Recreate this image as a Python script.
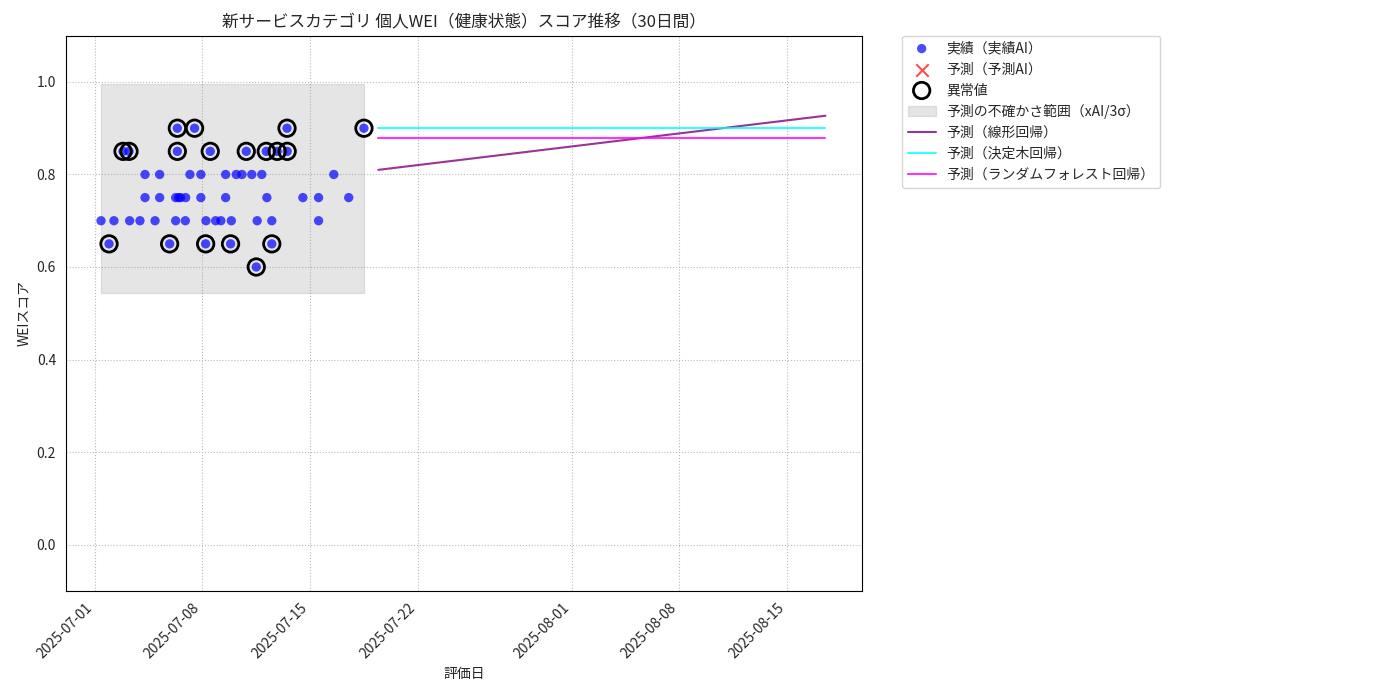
import numpy as np, pandas as pd, matplotlib
matplotlib.use("Agg")
import matplotlib.pyplot as plt, seaborn as sns

sns.set_style("white")
plt.rcParams['font.family'] = ['Noto Sans CJK JP', 'DejaVu Sans']

base = pd.Timestamp("2025-07-01")
obs_days = [5.37,6.49,12.5,17.5,
            1.84,2.23,5.37,7.51,9.85,11.15,11.86,12.51,
            3.27,4.22,6.19,6.90,8.51,9.20,9.57,10.21,10.86,15.54,
            3.27,4.22,5.26,5.45,5.58,5.91,6.90,8.51,11.19,13.53,14.55,16.51,
            0.41,1.25,2.27,2.94,3.92,5.26,5.89,7.23,7.86,8.20,8.88,10.56,11.51,14.55,
            0.93,4.87,7.21,8.83,11.51,
            10.5]
obs_vals = [0.9]*4 + [0.85]*8 + [0.8]*10 + [0.75]*12 + [0.7]*14 + [0.65]*5 + [0.6]
anom_days = [5.37,6.49,12.5,17.5,1.84,2.23,5.37,7.51,9.85,11.15,11.86,12.51,0.93,4.87,7.21,8.83,11.51,10.5]
anom_vals = [0.9]*4 + [0.85]*8 + [0.65]*5 + [0.6]
pred_days = [18.44, 47.5]
lin_vals = [0.81, 0.927]
tree_vals = [0.9, 0.9]
rf_vals = [0.878, 0.878]
band_days = [0.39, 17.5]
band_lo = [0.544, 0.544]
band_hi = [0.995, 0.995]
tick_labels = ["2025-07-01","2025-07-08","2025-07-15","2025-07-22","2025-08-01","2025-08-08","2025-08-15"]

to_dt = lambda d: [base + pd.Timedelta(days=x) for x in d]
obs = pd.DataFrame({"date": to_dt(obs_days), "val": obs_vals})
anom = pd.DataFrame({"date": to_dt(anom_days), "val": anom_vals})
pdt = to_dt(pred_days)

fig = plt.figure(figsize=(14, 7), dpi=100)
ax = fig.add_axes([0.047, 0.156, 0.569, 0.793])
ax.fill_between(to_dt(band_days), band_lo, band_hi, color="grey", alpha=0.2, label="予測の不確かさ範囲（xAI/3σ）")
sns.scatterplot(data=obs, x="date", y="val", ax=ax, color="blue", alpha=0.7, s=45, edgecolor="none", label="実績（実績AI）")
ax.scatter([], [], marker="x", color="red", alpha=0.7, s=80, label="予測（予測AI）")
ax.scatter(anom["date"], anom["val"], s=140, facecolors="none", edgecolors="black", linewidths=2, label="異常値")
sns.lineplot(x=pdt, y=lin_vals, ax=ax, color="purple", alpha=0.8, lw=1.5, label="予測（線形回帰）")
sns.lineplot(x=pdt, y=tree_vals, ax=ax, color="cyan", alpha=0.8, lw=1.5, label="予測（決定木回帰）")
sns.lineplot(x=pdt, y=rf_vals, ax=ax, color="magenta", alpha=0.8, lw=1.5, label="予測（ランダムフォレスト回帰）")

ax.set_xlim(base + pd.Timedelta(days=-1.88), base + pd.Timedelta(days=49.9))
ax.set_ylim(-0.1, 1.1)
ax.set_xticks(pd.to_datetime(tick_labels))
ax.set_xticklabels(tick_labels, rotation=45, ha="right")
ax.set_yticks(np.arange(0, 1.01, 0.2))
ax.grid(True, linestyle=":", color="#bbbbbb")
for s in ax.spines.values():
    s.set_color("black")
ax.set_title("新サービスカテゴリ 個人WEI（健康状態）スコア推移（30日間）", fontsize=12)
ax.set_xlabel("評価日")
ax.set_ylabel("WEIスコア")
h, l = ax.get_legend_handles_labels()
order = ["実績（実績AI）","予測（予測AI）","異常値","予測の不確かさ範囲（xAI/3σ）","予測（線形回帰）","予測（決定木回帰）","予測（ランダムフォレスト回帰）"]
d = dict(zip(l, h))
ax.legend([d[k] for k in order], order, loc="upper left", bbox_to_anchor=(1.05, 1.0), borderaxespad=0)
fig.savefig("out.png")
